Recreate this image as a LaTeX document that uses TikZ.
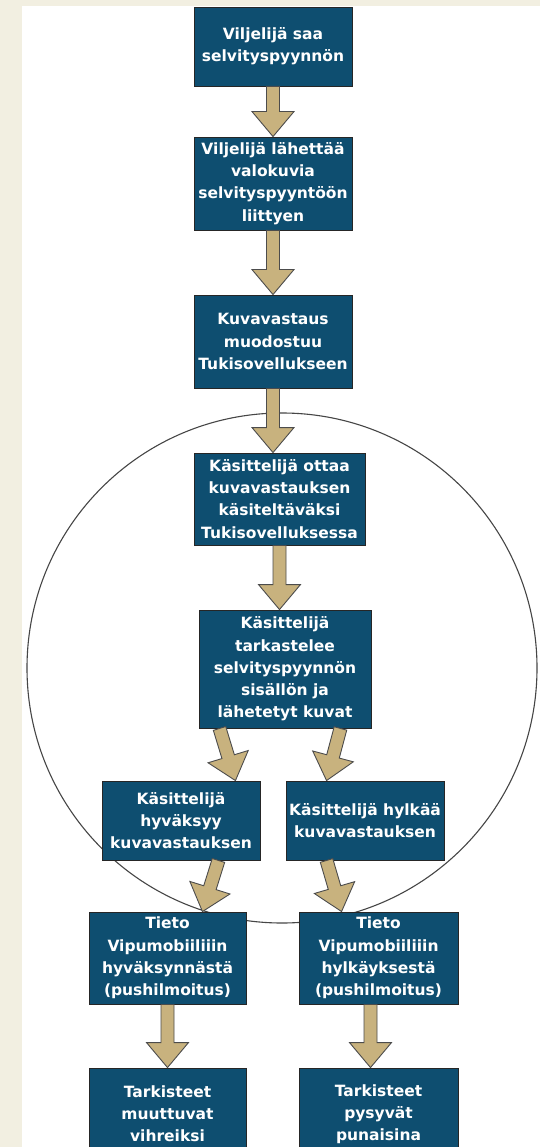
\documentclass[tikz,border=0pt]{standalone}
\usepackage{fontspec}
\setsansfont{DejaVu Sans}
\usetikzlibrary{calc}

\definecolor{pagebeige}{RGB}{242,239,225}
\definecolor{boxblue}{RGB}{14,78,112}
\definecolor{arrowtan}{RGB}{200,178,126}
\definecolor{ringgray}{RGB}{70,70,70}

\newcommand{\boxfont}{\sffamily\bfseries\fontsize{15.5}{22.2}\selectfont}
\tikzset{
  stepbox/.style={draw=black!85, line width=0.9pt, fill=boxblue, text=white,
    font=\boxfont, align=center, inner sep=0pt},
  blockarrow/.style={draw=black!70, line width=0.9pt, fill=arrowtan, line join=miter},
}
% block arrow from #1 to #2: shaft 13pt, head 42pt wide and 25pt long
\newcommand{\flowarrow}[2]{%
  \draw[blockarrow] let \p1=(#1), \p2=(#2), \n1={atan2(\y2-\y1,\x2-\x1)} in
    ($(\p1)+(\n1+90:6.5pt)$) -- ($(\p2)+(\n1+180:25pt)+(\n1+90:6.5pt)$)
    -- ($(\p2)+(\n1+180:25pt)+(\n1+90:21pt)$) -- (\p2)
    -- ($(\p2)+(\n1+180:25pt)+(\n1-90:21pt)$)
    -- ($(\p2)+(\n1+180:25pt)+(\n1-90:6.5pt)$) -- ($(\p1)+(\n1-90:6.5pt)$) -- cycle;}

\begin{document}
\begin{tikzpicture}[x=1pt,y=-1pt]
\useasboundingbox (0,0) rectangle (540,1147);
\clip (0,0) rectangle (540,1147);
\fill[pagebeige] (0,0) rectangle (540,1147);
\fill[white] (22,6) rectangle (540,1147);
\draw[ringgray, line width=1.1pt] (282,668) circle[radius=255pt];

\node[stepbox, minimum width=158pt, minimum height=79pt] (saa) at (273,46.5) {Viljelijä saa\\selvityspyynnön};
\node[stepbox, minimum width=158pt, minimum height=93pt] (lahettaa) at (273,183.5) {Viljelijä lähettää\\valokuvia\\selvityspyyntöön\\liittyen};
\node[stepbox, minimum width=158pt, minimum height=93pt] (kuvavastaus) at (273,341.5) {Kuvavastaus\\muodostuu\\Tukisovellukseen};
\node[stepbox, minimum width=171pt, minimum height=92pt] (ottaa) at (279.5,499) {Käsittelijä ottaa\\kuvavastauksen\\käsiteltäväksi\\Tukisovelluksessa};
\node[stepbox, minimum width=172pt, minimum height=118pt] (tarkastelee) at (285,669) {Käsittelijä\\tarkastelee\\selvityspyynnön\\sisällön ja\\lähetetyt kuvat};
\node[stepbox, minimum width=158pt, minimum height=79pt] (hyvaksyy) at (181,820.5) {Käsittelijä\\hyväksyy\\kuvavastauksen};
\node[stepbox, minimum width=158pt, minimum height=79pt] (hylkaa) at (365,820.5) {Käsittelijä hylkää\\kuvavastauksen};
\node[stepbox, minimum width=157pt, minimum height=92pt] (tietohyv) at (167.5,958) {Tieto\\Vipumobiiliiin\\hyväksynnästä\\(pushilmoitus)};
\node[stepbox, minimum width=159pt, minimum height=92pt] (tietohylk) at (378.5,958) {Tieto\\Vipumobiiliiin\\hylkäyksestä\\(pushilmoitus)};
\node[stepbox, minimum width=157pt, minimum height=92pt] (vihreiksi) at (167.5,1114) {Tarkisteet\\muuttuvat\\vihreiksi};
\node[stepbox, minimum width=159pt, minimum height=92pt] (punaisina) at (378.5,1114) {Tarkisteet\\pysyvät\\punaisina};

\flowarrow{saa.south}{lahettaa.north}
\flowarrow{lahettaa.south}{kuvavastaus.north}
\flowarrow{kuvavastaus.south}{kuvavastaus.south |- ottaa.north}
\flowarrow{ottaa.south}{ottaa.south |- tarkastelee.north}
\flowarrow{[xshift=21pt]tarkastelee.south west}{[xshift=-25pt]hyvaksyy.north east}
\flowarrow{[xshift=-31pt]tarkastelee.south east}{[xshift=41pt]hylkaa.north west}
\flowarrow{[xshift=-42pt]hyvaksyy.south east}{[xshift=-44pt]tietohyv.north east}
\flowarrow{[xshift=41pt]hylkaa.south west}{[xshift=43pt]tietohylk.north west}
\flowarrow{tietohyv.south}{tietohyv.south |- vihreiksi.north}
\flowarrow{[xshift=-8pt]tietohylk.south}{[xshift=-8pt]tietohylk.south |- punaisina.north}
\end{tikzpicture}
\end{document}
